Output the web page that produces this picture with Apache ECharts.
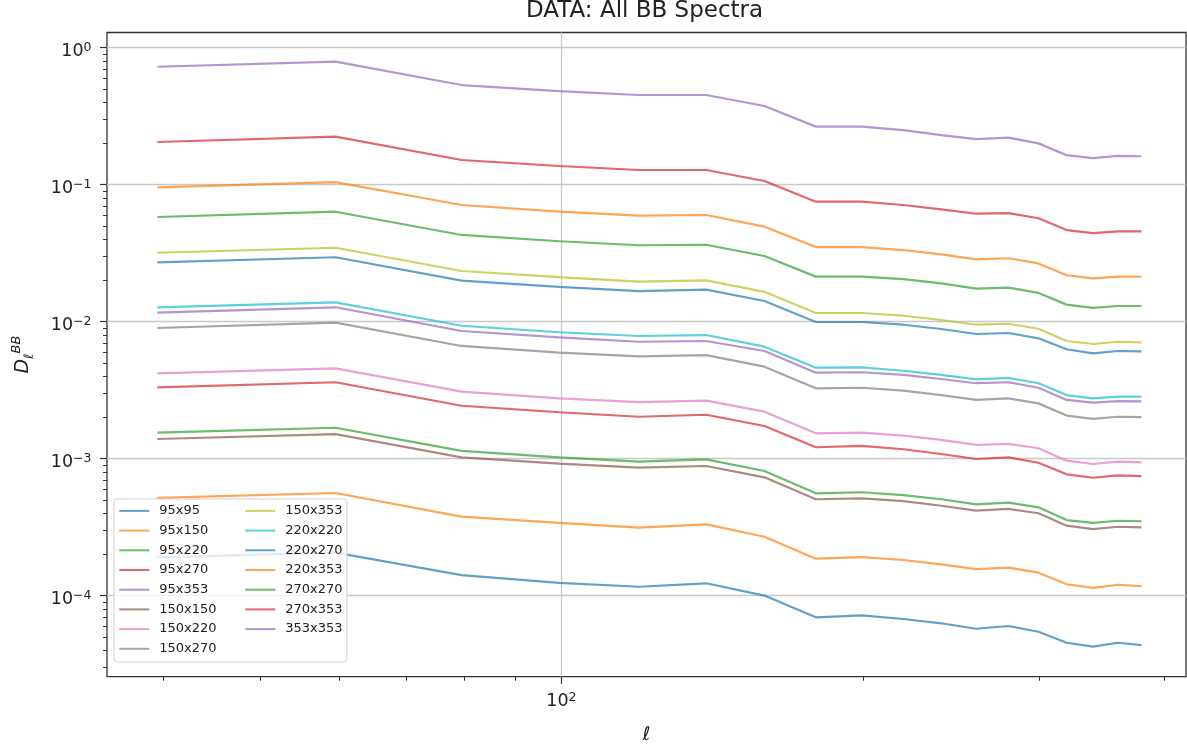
<!DOCTYPE html>
<html><head><meta charset="utf-8">
<script src="https://cdn.jsdelivr.net/npm/echarts@6/dist/echarts.min.js"></script>
<style>html,body{margin:0;padding:0;background:#fff}#c{width:1187px;height:749px}</style>
</head><body><div id="c"></div>
<script>
const ells = [39.5, 59.5, 79.5, 99.5, 119.5, 139.5, 159.5, 179.5, 199.5, 219.5, 239.5, 259.5, 279.5, 299.5, 319.5, 339.5, 359.5, 379.5];

const bb95x95 = [1.90e-4, 2.06e-4, 1.41e-4, 1.24e-4, 1.16e-4, 1.23e-4, 1.00e-4, 6.94e-5, 7.18e-5, 6.75e-5, 6.28e-5, 5.73e-5, 6.00e-5, 5.45e-5, 4.53e-5, 4.24e-5, 4.53e-5, 4.35e-5];
const bb95x150 = [5.16e-4, 5.61e-4, 3.77e-4, 3.39e-4, 3.13e-4, 3.31e-4, 2.69e-4, 1.86e-4, 1.91e-4, 1.82e-4, 1.69e-4, 1.56e-4, 1.60e-4, 1.47e-4, 1.21e-4, 1.14e-4, 1.20e-4, 1.17e-4];
const bb95x220 = [1.55e-3, 1.68e-3, 1.14e-3, 1.02e-3, 9.49e-4, 9.88e-4, 8.12e-4, 5.58e-4, 5.68e-4, 5.42e-4, 5.05e-4, 4.64e-4, 4.77e-4, 4.41e-4, 3.56e-4, 3.40e-4, 3.52e-4, 3.49e-4];
const bb95x270 = [3.31e-3, 3.61e-3, 2.43e-3, 2.18e-3, 2.02e-3, 2.09e-3, 1.73e-3, 1.21e-3, 1.24e-3, 1.17e-3, 1.08e-3, 9.93e-4, 1.02e-3, 9.33e-4, 7.68e-4, 7.25e-4, 7.55e-4, 7.46e-4];
const bb95x353 = [1.161e-2, 1.272e-2, 8.54e-3, 7.68e-3, 7.13e-3, 7.22e-3, 6.10e-3, 4.24e-3, 4.27e-3, 4.08e-3, 3.81e-3, 3.55e-3, 3.61e-3, 3.29e-3, 2.68e-3, 2.56e-3, 2.63e-3, 2.62e-3];
const bb150x150 = [1.39e-3, 1.51e-3, 1.02e-3, 9.18e-4, 8.58e-4, 8.83e-4, 7.30e-4, 5.05e-4, 5.13e-4, 4.90e-4, 4.53e-4, 4.17e-4, 4.29e-4, 3.99e-4, 3.24e-4, 3.06e-4, 3.18e-4, 3.15e-4];
const bb150x220 = [4.19e-3, 4.56e-3, 3.08e-3, 2.75e-3, 2.58e-3, 2.65e-3, 2.20e-3, 1.53e-3, 1.55e-3, 1.47e-3, 1.37e-3, 1.26e-3, 1.28e-3, 1.19e-3, 9.66e-4, 9.13e-4, 9.49e-4, 9.40e-4];
const bb150x270 = [8.98e-3, 9.82e-3, 6.64e-3, 5.93e-3, 5.58e-3, 5.70e-3, 4.69e-3, 3.26e-3, 3.29e-3, 3.13e-3, 2.91e-3, 2.68e-3, 2.75e-3, 2.53e-3, 2.06e-3, 1.95e-3, 2.02e-3, 2.01e-3];
const bb150x353 = [3.18e-2, 3.46e-2, 2.34e-2, 2.11e-2, 1.96e-2, 2.00e-2, 1.65e-2, 1.156e-2, 1.156e-2, 1.104e-2, 1.027e-2, 9.49e-3, 9.65e-3, 8.87e-3, 7.22e-3, 6.86e-3, 7.13e-3, 7.06e-3];
const bb220x220 = [1.272e-2, 1.383e-2, 9.33e-3, 8.36e-3, 7.85e-3, 7.98e-3, 6.56e-3, 4.61e-3, 4.64e-3, 4.38e-3, 4.08e-3, 3.79e-3, 3.88e-3, 3.55e-3, 2.91e-3, 2.75e-3, 2.83e-3, 2.83e-3];
const bb220x270 = [2.71e-2, 2.95e-2, 1.99e-2, 1.79e-2, 1.67e-2, 1.71e-2, 1.414e-2, 9.93e-3, 9.93e-3, 9.49e-3, 8.83e-3, 8.12e-3, 8.26e-3, 7.55e-3, 6.28e-3, 5.87e-3, 6.10e-3, 6.07e-3];
const bb220x353 = [9.56e-2, 1.044e-1, 7.10e-2, 6.34e-2, 5.93e-2, 6.00e-2, 4.93e-2, 3.50e-2, 3.50e-2, 3.33e-2, 3.10e-2, 2.85e-2, 2.90e-2, 2.66e-2, 2.18e-2, 2.07e-2, 2.13e-2, 2.13e-2];
const bb270x270 = [5.80e-2, 6.34e-2, 4.29e-2, 3.86e-2, 3.61e-2, 3.64e-2, 3.01e-2, 2.13e-2, 2.13e-2, 2.04e-2, 1.90e-2, 1.74e-2, 1.77e-2, 1.62e-2, 1.33e-2, 1.26e-2, 1.30e-2, 1.30e-2];
const bb270x353 = [0.2046, 0.2238, 0.1512, 0.1367, 0.1278, 0.1278, 0.1062, 0.0750, 0.0750, 0.0710, 0.0660, 0.0613, 0.0620, 0.0568, 0.0466, 0.0443, 0.0456, 0.0456];
const bb353x353 = [0.725, 0.789, 0.533, 0.482, 0.451, 0.451, 0.375, 0.265, 0.265, 0.250, 0.230, 0.215, 0.220, 0.200, 0.164, 0.156, 0.162, 0.161];

const seriesNames = ['95x95', '95x150', '95x220', '95x270', '95x353', '150x150', '150x220', '150x270',
                     '150x353', '220x220', '220x270', '220x353', '270x270', '270x353', '353x353'];
const seriesValues = [bb95x95, bb95x150, bb95x220, bb95x270, bb95x353, bb150x150, bb150x220, bb150x270,
                      bb150x353, bb220x220, bb220x270, bb220x353, bb270x270, bb270x353, bb353x353];
const lineColors = ['rgba(31,119,180,0.7)', 'rgba(255,127,14,0.7)', 'rgba(44,160,44,0.7)', 'rgba(214,39,40,0.7)',
                    'rgba(148,103,189,0.7)', 'rgba(140,86,75,0.7)', 'rgba(227,119,194,0.7)', 'rgba(127,127,127,0.7)',
                    'rgba(188,189,34,0.7)', 'rgba(23,190,207,0.7)', 'rgba(31,119,180,0.7)', 'rgba(255,127,14,0.7)',
                    'rgba(44,160,44,0.7)', 'rgba(214,39,40,0.7)', 'rgba(148,103,189,0.7)'];

const xMajorTicks = [100];
const xMinorTicks = [40, 50, 60, 70, 80, 90, 200, 300, 400];
const yMajorTicks = [1e-4, 1e-3, 1e-2, 1e-1, 1];
const yMinorTicks = [];
for (let e = -5; e <= -1; e++) { for (let m = 2; m <= 9; m++) { yMinorTicks.push(m * Math.pow(10, e)); } }
const xRange = [35.18, 420.4];
const yRange = [2.559e-5, 1.289];

const FONT = 'DejaVu Sans';
const TXT = '#222';
function powLabel(v) {
  const e = Math.round(Math.log10(v));
  return '{b|10}{e|' + (e < 0 ? '\u2212' + (-e) : String(e)) + '}';
}
const labelRich = {
  b: { fontSize: 17.5, fontFamily: FONT, color: TXT, lineHeight: 19, verticalAlign: 'bottom' },
  e: { fontSize: 12.5, fontFamily: FONT, color: TXT, lineHeight: 13, verticalAlign: 'top' }
};

const chart = echarts.init(document.getElementById('c'), null, { renderer: 'canvas' });
const series = seriesNames.map((n, i) => ({
  name: n,
  type: 'line',
  xAxisIndex: 0,
  yAxisIndex: 0,
  data: ells.map((x, j) => [x, seriesValues[i][j]]),
  symbol: 'none',
  showSymbol: false,
  color: lineColors[i],
  itemStyle: { color: lineColors[i] },
  lineStyle: { width: 2.2, color: lineColors[i] },
  emphasis: { disabled: true },
  silent: true
}));

const col1 = seriesNames.slice(0, 8);

chart.setOption({
  animation: false,
  backgroundColor: '#fff',
  title: {
    text: 'DATA: All BB Spectra',
    left: 526, top: 0, padding: 0,
    textStyle: { fontSize: 23, fontWeight: 'normal', fontFamily: FONT, color: TXT }
  },
  grid: {
    left: 107, right: 1, top: 32.5, bottom: 72.3,
    show: true, borderColor: '#333', borderWidth: 1.3, backgroundColor: 'transparent',
    outerBoundsMode: 'none', containLabel: false
  },
  legend: {
    orient: 'vertical', left: 114, top: 499, height: 162,
    itemWidth: 30, itemHeight: 14, itemGap: 6.7,
    padding: [5.4, 4.3, 6.7, 4.3],
    backgroundColor: 'rgba(255,255,255,0.8)', borderColor: '#d0d0d0', borderWidth: 1, borderRadius: 3,
    itemStyle: { opacity: 0 },
    selectedMode: false,
    data: seriesNames,
    formatter: name => (col1.indexOf(name) >= 0 ? '{a|' : '{c|') + name + '}',
    textStyle: {
      fontSize: 13, fontFamily: FONT, color: TXT,
      rich: {
        a: { fontSize: 13, fontFamily: FONT, color: TXT, width: 78.3, padding: [0, 0, 0, 5], lineHeight: 14 },
        c: { fontSize: 13, fontFamily: FONT, color: TXT, padding: [0, 0, 0, 5], lineHeight: 14 }
      }
    }
  },
  xAxis: [
    {
      type: 'log', logBase: 10, min: xRange[0], max: xRange[1], position: 'bottom',
      name: '\u2113', nameLocation: 'middle', nameGap: 49,
      nameTextStyle: { fontSize: 19, fontStyle: 'italic', fontFamily: FONT, color: TXT },
      axisLine: { show: false },
      axisTick: { show: true, customValues: xMajorTicks, length: 7, lineStyle: { color: '#333', width: 1.2 } },
      axisLabel: { show: true, customValues: xMajorTicks, margin: 15, formatter: powLabel, rich: labelRich },
      splitLine: { show: true, lineStyle: { color: '#c8c8c8', width: 1.3 } },
      minorTick: { show: false }, minorSplitLine: { show: false }
    },
    {
      type: 'log', logBase: 10, min: xRange[0], max: xRange[1], position: 'bottom',
      axisLine: { show: false },
      axisTick: { show: true, customValues: xMinorTicks, length: 4, lineStyle: { color: '#333', width: 1 } },
      axisLabel: { show: false },
      splitLine: { show: false }
    }
  ],
  yAxis: [
    {
      type: 'log', logBase: 10, min: yRange[0], max: yRange[1], position: 'left',
      name: '{d|D}{s|\u2113}{p|BB}', nameLocation: 'middle', nameGap: 71, nameRotate: 90,
      nameTextStyle: {
        rich: {
          d: { fontSize: 19, fontStyle: 'italic', fontFamily: FONT, color: TXT, lineHeight: 26, verticalAlign: 'middle' },
          s: { fontSize: 13, fontStyle: 'italic', fontFamily: FONT, color: TXT, lineHeight: 12, verticalAlign: 'bottom' },
          p: { fontSize: 13, fontStyle: 'italic', fontFamily: FONT, color: TXT, lineHeight: 12, verticalAlign: 'top' }
        }
      },
      axisLine: { show: false },
      axisTick: { show: true, customValues: yMajorTicks, length: 7, lineStyle: { color: '#333', width: 1.2 } },
      axisLabel: { show: true, customValues: yMajorTicks, margin: 15.5, formatter: powLabel, rich: labelRich, padding: [6, 0, 0, 0] },
      splitLine: { show: true, lineStyle: { color: '#c8c8c8', width: 1.3 } },
      minorTick: { show: false }, minorSplitLine: { show: false }
    },
    {
      type: 'log', logBase: 10, min: yRange[0], max: yRange[1], position: 'left',
      axisLine: { show: false },
      axisTick: { show: true, customValues: yMinorTicks, length: 4, lineStyle: { color: '#333', width: 1 } },
      axisLabel: { show: false },
      splitLine: { show: false }
    }
  ],
  series: series
});
</script>
</body></html>
